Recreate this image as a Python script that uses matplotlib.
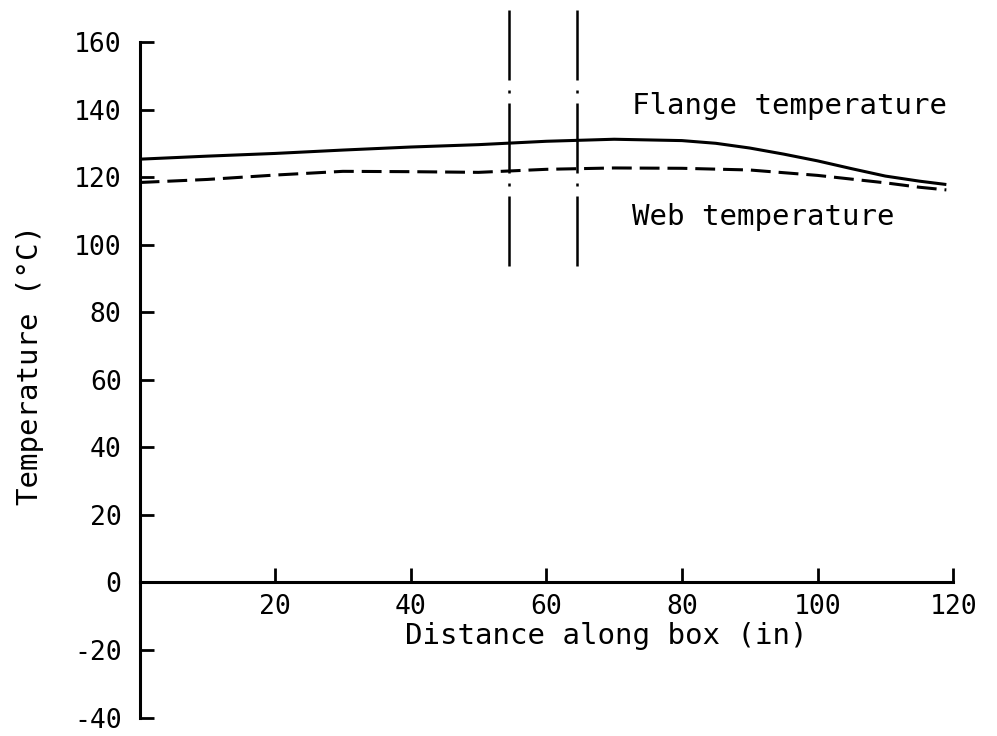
import matplotlib
matplotlib.use("Agg")
import matplotlib.pyplot as plt
import numpy as np

# temperature along the box girder (deg C)
distance = [0, 10, 20, 30, 40, 50, 60, 70, 80, 85, 90, 95, 100, 105, 110, 115, 119]
flange_temp = [125.3, 126.2, 127.0, 128.0, 128.9, 129.6, 130.6, 131.2, 130.8, 130.0,
               128.6, 126.8, 124.8, 122.5, 120.3, 118.8, 117.8]
web_dist = [0, 10, 20, 30, 40, 50, 60, 70, 80, 90, 100, 105, 110, 115, 119]
web_temp = [118.4, 119.3, 120.6, 121.7, 121.6, 121.4, 122.3, 122.7, 122.6, 122.1,
            120.5, 119.4, 118.3, 117.0, 116.2]

# section markers
section_x = [54.5, 64.5]
section_span = (169.4, 93.8)

x_ticks = [20, 40, 60, 80, 100, 120]
y_ticks = [-40, -20, 0, 20, 40, 60, 80, 100, 120, 140, 160]
y_labels = ["-40", "-20", "0", "20", "40", "60", "80", "100", "120", "140", "160"]

plt.rcParams["font.family"] = ["DejaVu Sans Mono"]

fig = plt.figure(figsize=(9.97, 7.36), dpi=100)
ax = fig.add_axes([0.140, 0.025, 0.816, 0.918])

lw = 2.2
ax.plot(distance, flange_temp, color="black", lw=lw, solid_capstyle="butt")
ax.plot(web_dist, web_temp, color="black", lw=lw, linestyle=(0, (6.5, 2.6)))

for sx in section_x:
    ax.plot([sx, sx], section_span, color="black", lw=1.8,
            linestyle=(0, (28, 4, 1.2, 4)), clip_on=False)

ax.set_xlim(0, 120)
ax.set_ylim(-40, 160)

ax.spines["top"].set_visible(False)
ax.spines["right"].set_visible(False)
ax.spines["left"].set_bounds(-40, 160)
ax.spines["left"].set_linewidth(2.2)
ax.spines["bottom"].set_position(("data", 0))
ax.spines["bottom"].set_bounds(0, 120)
ax.spines["bottom"].set_linewidth(2.2)

ax.set_xticks(x_ticks)
ax.set_xticklabels([str(t) for t in x_ticks])
ax.set_yticks(y_ticks)
ax.set_yticklabels(y_labels)
ax.tick_params(axis="both", direction="in", length=10, width=2.0, labelsize=19)
ax.tick_params(axis="y", pad=13)
ax.tick_params(axis="x", pad=8)

ax.text(72.6, 140.9, "Flange temperature", fontsize=21, va="center", ha="left")
ax.text(72.6, 108.2, "Web temperature", fontsize=21, va="center", ha="left")

ax.text(68.8, -15.9, "Distance along box (in)", fontsize=21, ha="center", va="center")
fig.text(0.03, 0.504, "Temperature (\u00b0C)", fontsize=21, rotation=90,
         ha="center", va="center")

fig.savefig("out.png", dpi=100)
